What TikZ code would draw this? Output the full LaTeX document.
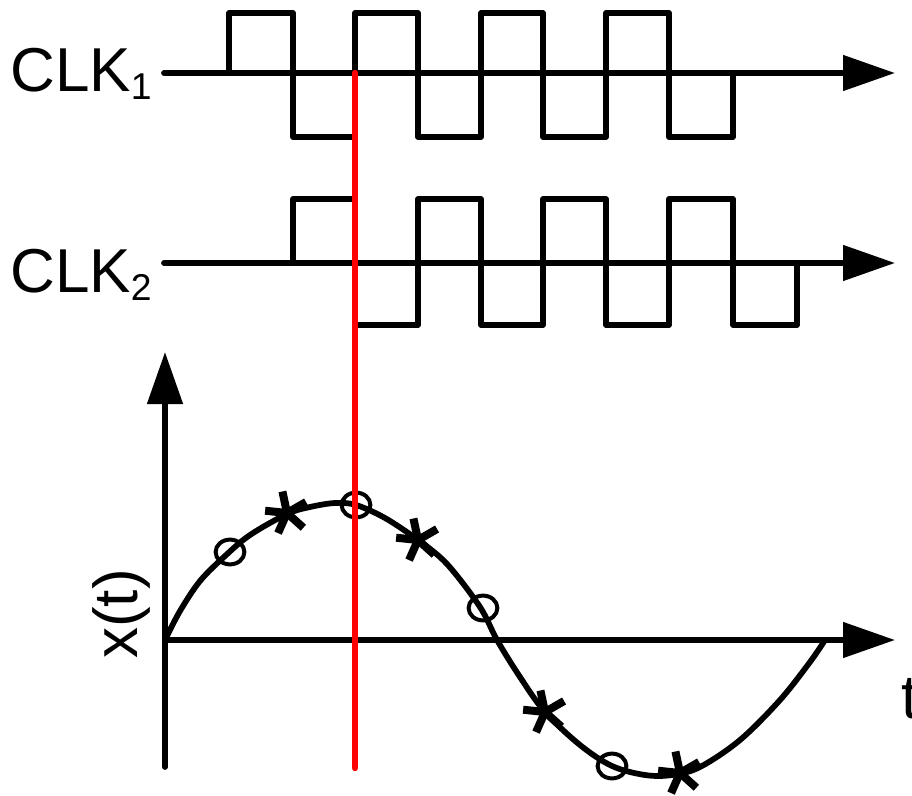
\documentclass[tikz,border=0pt]{standalone}
\usepackage{fontspec}
\setmainfont{Liberation Sans}
\usetikzlibrary{arrows.meta}
\tikzset{
  wave/.style={line width=4.3pt, line join=round, line cap=round},
  axisarrow/.style={line width=4.3pt, line cap=round, -{Triangle[length=39pt,width=26pt]}},
  lab/.style={inner sep=0pt, font=\fontsize{46.5}{52}\selectfont},
  ringmark/.style={line width=3pt},
  armmark/.style={line width=6pt},
  redline/.style={draw={rgb,255:red,255;green,0;blue,0}, line width=4.8pt, line cap=round}
}
\newcommand{\starmk}[2]{%
  \foreach \a in {102,174,246,318,30}
    \draw[armmark] (#1,#2) -- ++({22*cos(\a)},{-22*sin(\a)});%
}
\newcommand{\subtxt}[1]{\raisebox{-6pt}{\fontsize{28}{32}\selectfont #1}}
\begin{document}
\begin{tikzpicture}[x=0.75pt,y=-0.75pt]
\useasboundingbox (0,0) rectangle (912,795);
% labels
\node[lab, anchor=base west] (clk1) at (10,92) {CLK\subtxt{1}};
\node[lab, anchor=base west] (clk2) at (10,292) {CLK\subtxt{2}};
\node[lab, rotate=90, anchor=base] (xt) at (137,614) {x(t)};
\node[lab, anchor=base west] (tl) at (901,718) {t};
% CLK1
\draw[axisarrow] (164,73) -- (895,73);
\draw[wave] (229,73) -- (229,13) -- (293,13) -- (293,137) -- (355,137) -- (355,13) -- (418,13) -- (418,137)
  -- (481,137) -- (481,13) -- (543,13) -- (543,137) -- (606,137) -- (606,13) -- (669,13) -- (669,137)
  -- (733,137) -- (733,73);
% CLK2
\draw[axisarrow] (164,263) -- (895,263);
\draw[wave] (293,263) -- (293,199) -- (355,199) -- (355,325) -- (418,325) -- (418,199) -- (481,199) -- (481,325)
  -- (543,325) -- (543,199) -- (606,199) -- (606,325) -- (669,325) -- (669,199) -- (733,199) -- (733,325)
  -- (797,325) -- (797,263);
% axes
\draw[axisarrow] (165,767) -- (165,352);
\draw[axisarrow] (165,640) -- (895,640);
% signal
\draw[wave] plot[smooth, tension=0.55] coordinates {
  (165,640) (180,611) (200,581) (225,556) (250,535) (287,514) (310,507) (335,503) (356,505)
  (385,518) (418,540) (447,564) (480,607) (497,640) (520,677) (545,712) (580,745) (612,766)
  (645,775) (672,775) (700,767) (740,740) (780,700) (810,662) (825,640)};
% samples
\foreach \px/\py in {230/552, 356/505, 483/608, 612/766}
  \draw[ringmark] (\px,\py) ellipse [x radius=10.8pt, y radius=9.3pt];
\starmk{287}{513}
\starmk{418}{540}
\starmk{545}{712}
\starmk{680}{773}
% red marker line
\draw[redline] (355,73) -- (355,768);
\end{tikzpicture}
\end{document}
